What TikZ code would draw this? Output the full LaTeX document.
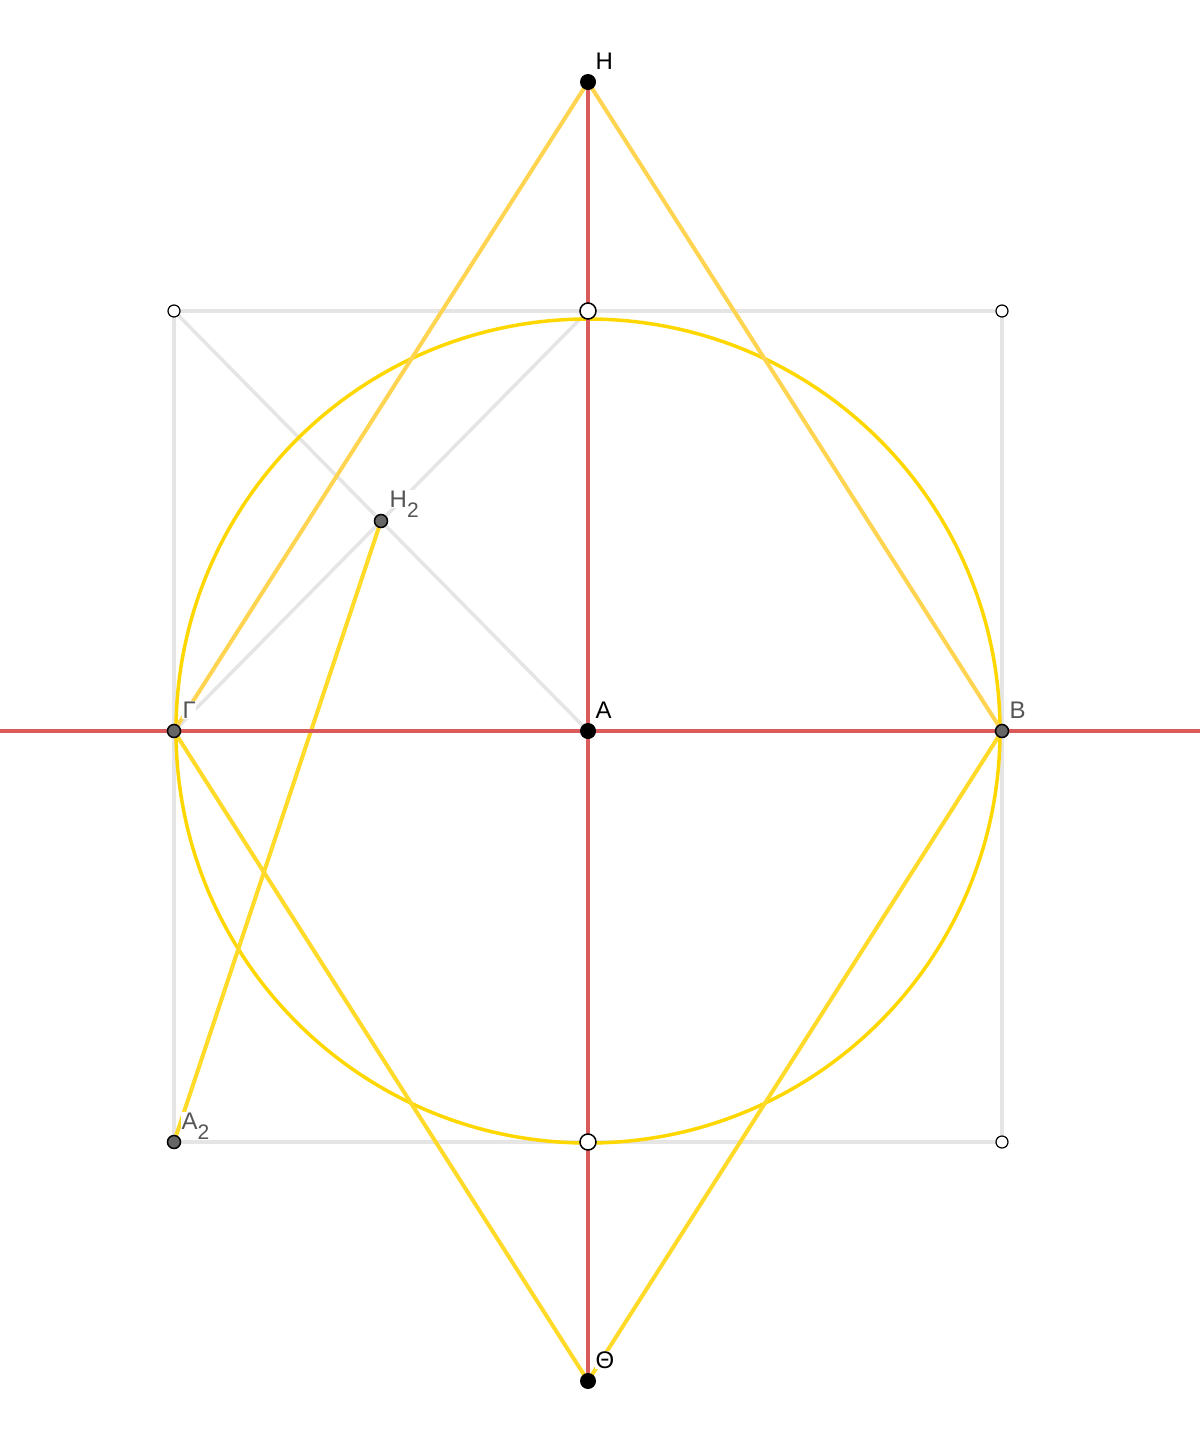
\documentclass[tikz,border=0pt]{standalone}
\usepackage{fontspec}
\setmainfont{Liberation Sans}
\usetikzlibrary{positioning}
\definecolor{geored}{RGB}{217,91,91}
\definecolor{geoyellow}{RGB}{255,215,0}
\definecolor{geogold}{RGB}{255,212,80}
\definecolor{geoline}{RGB}{255,218,40}
\definecolor{geogray}{RGB}{229,229,229}
\definecolor{ptgrayfill}{RGB}{102,102,102}
\definecolor{lblgray}{RGB}{85,85,85}
\newcommand{\lowidx}[1]{\raisebox{-10pt}{\fontsize{21}{21}\selectfont #1}}

\begin{document}
\begin{tikzpicture}[x=1pt, y=-1pt,
    ptblack/.style={circle, fill=black, inner sep=0pt, minimum size=16pt},
    ptgray/.style={circle, draw=black, line width=1.5pt, fill=ptgrayfill, inner sep=0pt, minimum size=13pt},
    ptwhite/.style={circle, draw=black, line width=1.5pt, fill=white, inner sep=0pt, minimum size=16pt},
    ptsmall/.style={circle, draw=black, line width=1.2pt, fill=white, inner sep=0pt, minimum size=12pt},
    lbl/.style={font=\fontsize{24}{24}\selectfont, inner sep=0.5pt, fill=white, text depth=0pt}]
    \useasboundingbox (0,0) rectangle (1200,1449);

    % Points
    \coordinate (A) at (588,731);
    \coordinate (B) at (1002,731);
    \coordinate (G) at (174,731);
    \coordinate (H) at (588,82);
    \coordinate (T) at (588,1381);
    \coordinate (H2) at (381,521);
    \coordinate (A2) at (174,1142);
    \coordinate (tl) at (174,311);
    \coordinate (tm) at (588,311);
    \coordinate (tr) at (1002,311);
    \coordinate (bm) at (588,1142);
    \coordinate (br) at (1002,1142);
    \coordinate (west) at (0,731);
    \coordinate (east) at (1200,731);

    % Square and helper lines
    \draw[geogray, line width=3.5pt] (tl) -- (tr) -- (br) -- (A2) -- cycle;
    \draw[geogray, line width=3.5pt] (tl) -- (A);
    \draw[geogray, line width=3.5pt] (G) -- (tm);

    % Circle
    \draw[geoyellow, line width=3.5pt] (A) circle (412);

    % Yellow segments
    \draw[geogold, line width=4pt] (G) -- (H) -- (B);
    \draw[geoline, line width=4pt] (G) -- (T) -- (B);
    \draw[geoline, line width=4pt] (H2) -- (A2);

    % Axes
    \draw[geored, line width=4pt] (west) -- (east);
    \draw[geored, line width=4pt] (H) -- (T);

    % Labels
    \node[lbl, above right=12pt and 7pt of H] {H};
    \node[lbl, above right=12pt and 7pt of A] {A};
    \node[lbl, text=lblgray, above right=12pt and 7pt of B] {B};
    \node[lbl, text=lblgray, above right=12pt and 8pt of G] {Γ};
    \node[lbl, text=lblgray, above right=13pt and 8pt of H2] {H\lowidx{2}};
    \node[lbl, text=lblgray, above right=12pt and 7pt of A2] {A\lowidx{2}};
    \node[lbl, above right=12pt and 7pt of T] {Θ};

    % Dots
    \node[ptsmall] at (tl) {};
    \node[ptsmall] at (tr) {};
    \node[ptsmall] at (br) {};
    \node[ptwhite] at (tm) {};
    \node[ptwhite] at (bm) {};
    \node[ptgray] at (G) {};
    \node[ptgray] at (B) {};
    \node[ptgray] at (H2) {};
    \node[ptgray] at (A2) {};
    \node[ptblack] at (A) {};
    \node[ptblack] at (H) {};
    \node[ptblack] at (T) {};
\end{tikzpicture}
\end{document}
